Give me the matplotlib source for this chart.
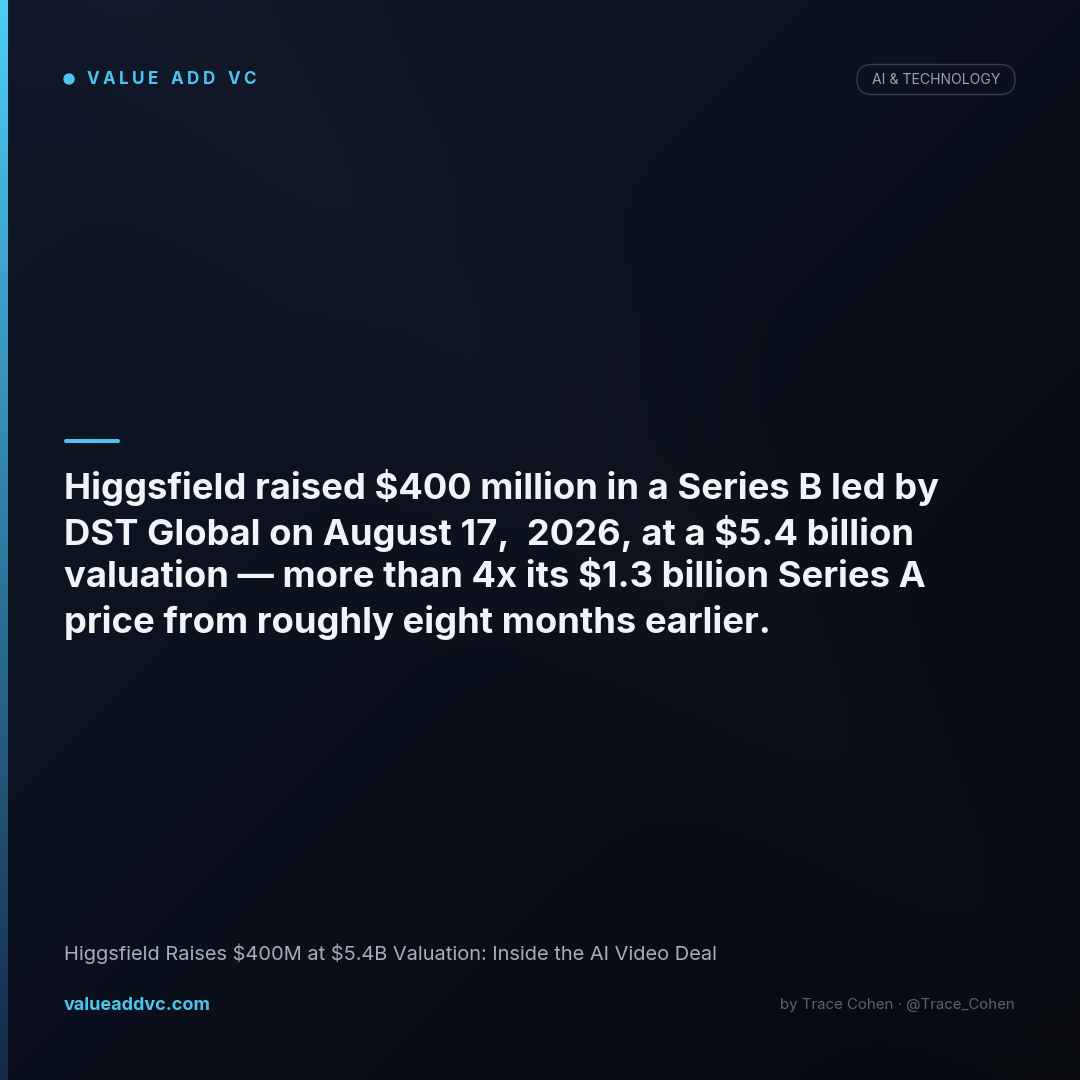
#!/usr/bin/env python3
"""Value Add VC social card: Higgsfield Series B headline."""

import matplotlib

matplotlib.use("Agg")
import matplotlib.pyplot as plt
import numpy as np
from matplotlib.patches import Circle, FancyBboxPatch

W, H = 1080, 1080

brand = "VALUE ADD VC"
tag = "AI & TECHNOLOGY"
headline_lines = [
    "Higgsfield raised $400 million in a Series B led by",
    "DST Global on August 17,  2026, at a $5.4 billion",
    "valuation \u2014 more than 4x its $1.3 billion Series A",
    "price from roughly eight months earlier.",
]
subtitle = "Higgsfield Raises $400M at $5.4B Valuation: Inside the AI Video Deal"
site = "valueaddvc.com"
byline = "by Trace Cohen \u00b7 @Trace_Cohen"

CYAN = "#4cc6f0"
FONT = ["Inter", "DejaVu Sans"]
PX = 72 / 100  # points per pixel at dpi 100


def hex_rgb(h):
    h = h.lstrip("#")
    return np.array([int(h[i:i + 2], 16) / 255 for i in (0, 2, 4)])


def spaced_text(fig, ax, x, y, s, spacing, **kw):
    # matplotlib has no letter-spacing, so lay the characters out one by one
    renderer = fig.canvas.get_renderer()
    for ch in s:
        t = ax.text(x, y, ch, ha="left", va="center", **kw)
        bb = t.get_window_extent(renderer)
        if ch == " ":
            probe = ax.text(0, 0, "n", **kw)
            w = probe.get_window_extent(renderer).width * 0.55
            probe.remove()
        else:
            w = bb.width
        x += w + spacing


def main() -> None:
    fig = plt.figure(figsize=(W / 100, H / 100), dpi=100)
    ax = fig.add_axes([0, 0, 1, 1])
    ax.set_xlim(0, W)
    ax.set_ylim(H, 0)
    ax.axis("off")

    # background: diagonal navy gradient with a faint lighter band
    yy, xx = np.mgrid[0:H, 0:W] / W
    d = (xx + yy) / 2
    c0, c1 = hex_rgb("#0f1829"), hex_rgb("#07090f")
    bg = c0[None, None, :] * (1 - d[..., None]) + c1[None, None, :] * d[..., None]
    band = np.exp(-((xx - yy * 0.9 - 0.15) ** 2) / 0.02) * 0.012
    bg = np.clip(bg + band[..., None], 0, 1)
    ax.imshow(bg, extent=(0, W, H, 0), zorder=0, interpolation="bilinear")

    # left accent bar, cyan fading to deep blue
    t = np.linspace(0, 1, 256)[:, None]
    top, bot = hex_rgb("#4ccdf7"), hex_rgb("#13284a")
    bar = top[None, None, :] * (1 - t[..., None]) + bot[None, None, :] * t[..., None]
    bar = np.repeat(bar, 2, axis=1)
    ax.imshow(bar, extent=(0, 8, H, 0), zorder=1, aspect="auto")

    # brand row
    ax.add_patch(Circle((69, 79), 5, color=CYAN, zorder=2))
    spaced_text(fig, ax, 87, 79.5, brand, 3.4, color=CYAN, fontsize=17 * PX,
                fontweight="bold", family=FONT)

    # tag pill
    ax.add_patch(FancyBboxPatch((857, 64.5), 158, 30, boxstyle="round,pad=0,rounding_size=15",
                                fc="none", ec="#363d4b", lw=1.0, zorder=2))
    ax.text(936, 80, tag, ha="center", va="center", color="#9ba3b1",
            fontsize=14 * PX, family=FONT, zorder=3)

    # short accent line above the headline
    ax.plot([66, 118], [441, 441], color=CYAN, lw=4 * PX, solid_capstyle="round", zorder=2)

    # headline
    for i, line in enumerate(headline_lines):
        ax.text(64, 488 + i * 45, line, ha="left", va="center", color="#f1f3f8",
                fontsize=36.4 * PX, fontweight="bold", family=FONT, zorder=3,
                parse_math=False)

    # footer
    ax.text(64, 954, subtitle, ha="left", va="center", color="#a7aebb",
            fontsize=20 * PX, family=FONT, zorder=3, parse_math=False)
    ax.text(64, 1005, site, ha="left", va="center", color=CYAN,
            fontsize=18 * PX, fontweight="bold", family=FONT, zorder=3)
    ax.text(1015, 1005, byline, ha="right", va="center", color="#5b6373",
            fontsize=15 * PX, family=FONT, zorder=3)

    fig.savefig("out.png", dpi=100)
    plt.close(fig)


if __name__ == "__main__":
    main()
